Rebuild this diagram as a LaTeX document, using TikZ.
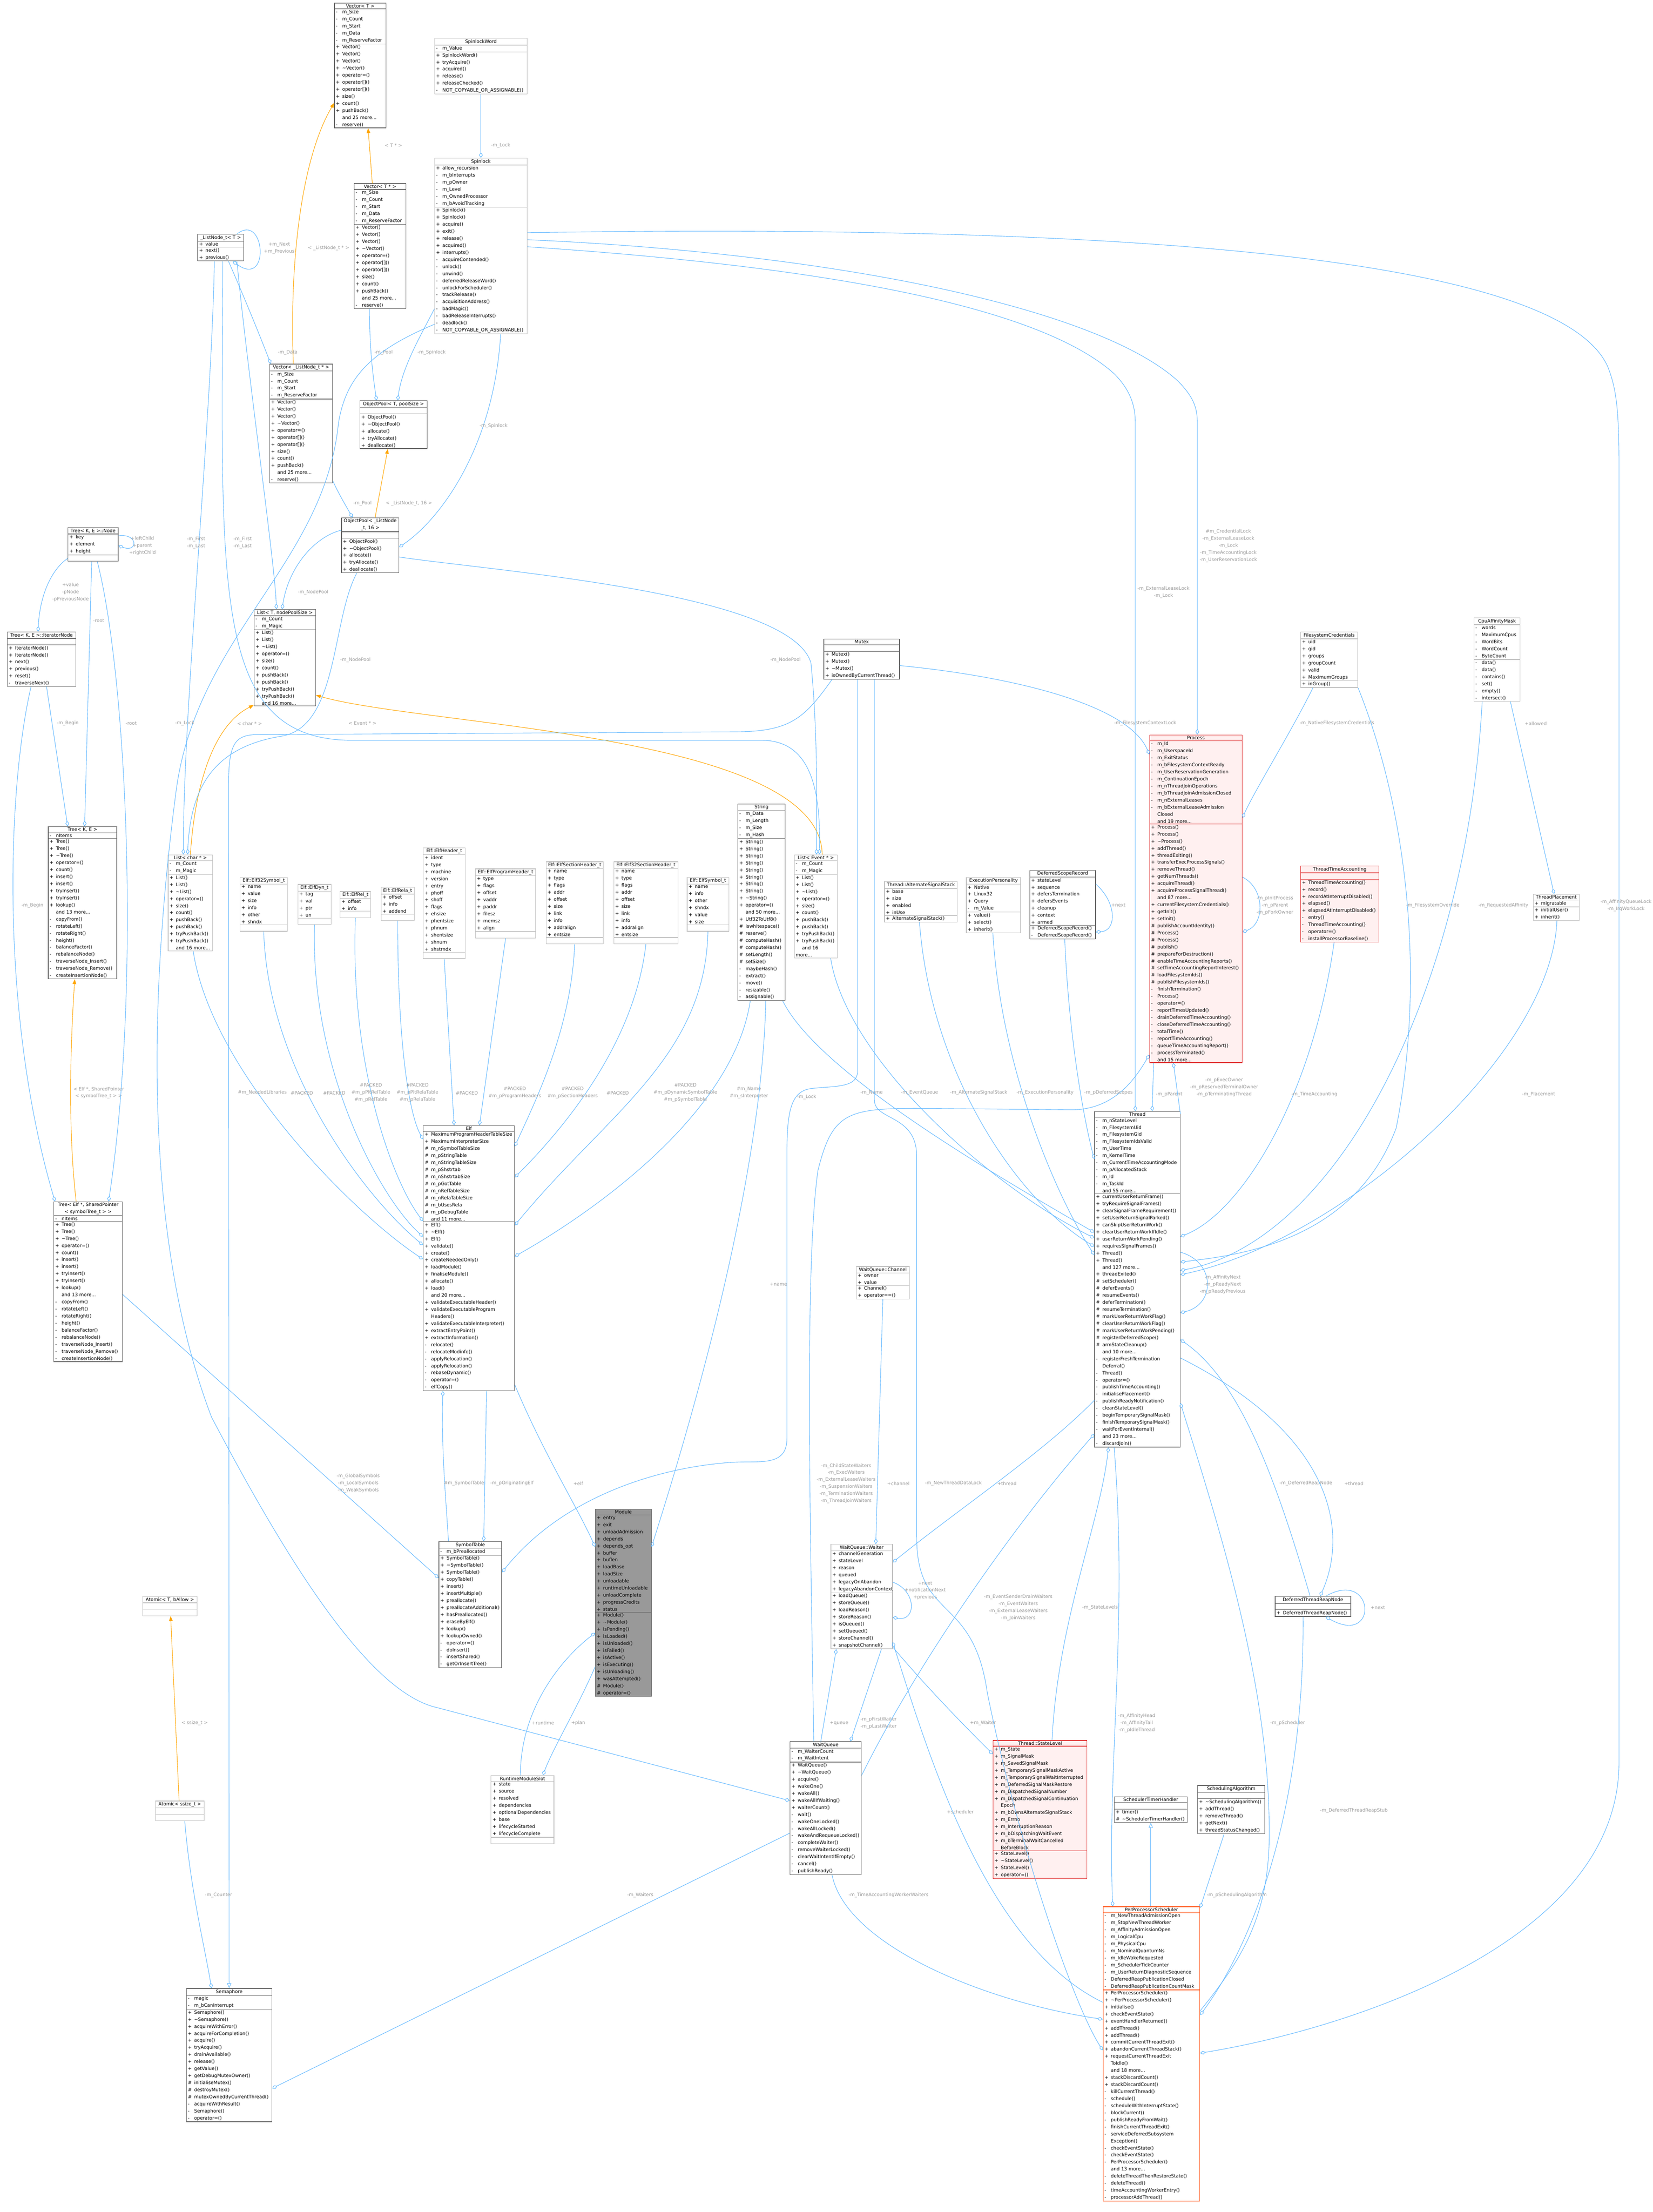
\documentclass[tikz,border=0pt]{standalone}
\usepackage{fontspec}
\setmainfont{DejaVu Sans}
\usetikzlibrary{shapes.multipart,arrows.meta,calc}
\setlength\parindent{0pt}

\definecolor{edgeblue}{HTML}{63B8FF}
\definecolor{tplorange}{HTML}{FFA500}
\definecolor{lblgrey}{HTML}{9A9A9A}
\definecolor{boxdark}{HTML}{666666}
\definecolor{boxlight}{HTML}{BFBFBF}
\definecolor{hlred}{HTML}{E03030}
\definecolor{hlfill}{HTML}{FFF0F0}
\definecolor{ppsred}{HTML}{FF5A1F}
\definecolor{modgrey}{HTML}{999999}

\newcommand\boxfont{\fontsize{3.3}{5}\selectfont}
\newcommand\mrow[2]{\makebox[4.5pt][l]{#1}#2\par}
\newcommand\pubs[1]{\foreach \x in {#1}{\mrow{+}{\x}}}
\newcommand\pris[1]{\foreach \x in {#1}{\mrow{-}{\x}}}
\newcommand\pros[1]{\foreach \x in {#1}{\mrow{\#}{\x}}}
\newcommand\more[1]{\mrow{}{and #1 more...}}
\newcommand\ttl[1]{\centering #1\par}
\newcommand\emp{\rule{0pt}{3pt}}
\newcommand\vecmeth{\pubs{Vector(),Vector(),Vector(),\textasciitilde Vector(),operator=(),operator[](),operator[](),size(),count(),pushBack()}\more{25}\pris{reserve()}}
\newcommand\listmeth{\pubs{List(),List(),\textasciitilde List(),operator=(),size(),count(),pushBack(),pushBack(),tryPushBack(),tryPushBack()}\more{16}}
\newcommand\treemeth{\pubs{Tree(),Tree(),\textasciitilde Tree(),operator=(),count(),insert(),insert(),tryInsert(),tryInsert(),lookup()}\more{13}\pris{copyFrom(),rotateLeft(),rotateRight(),height(),balanceFactor(),rebalanceNode(),traverseNode\_Insert(),traverseNode\_Remove(),createInsertionNode()}}
\newcommand\poolmeth{\pubs{ObjectPool(),\textasciitilde ObjectPool(),allocate(),tryAllocate(),deallocate()}}

\tikzset{
  cls/.style={draw=boxdark, fill=white, rectangle split, rectangle split parts=3,
    anchor=north west, inner xsep=1pt, inner ysep=0.6pt, font=\boxfont, align=left, line width=0.4pt},
  clslt/.style={cls, draw=boxlight},
  clsred/.style={cls, draw=hlred, fill=hlfill},
  lbl/.style={font=\boxfont, text=lblgrey, align=center, inner sep=0pt},
  agg/.style={draw=edgeblue, line width=0.35pt, -{Diamond[open,length=4pt,width=2.6pt]}},
  tpl/.style={draw=tplorange, color=tplorange, line width=0.35pt, -{Triangle[length=3.5pt,width=2.6pt]}},
  inh/.style={draw=edgeblue, line width=0.35pt, -{Triangle[open,length=3.5pt,width=3pt]}}
}

\begin{document}
\begin{tikzpicture}[x=1pt,y=-1pt]
\useasboundingbox (0,0) rectangle (1172,1568.7);

% template and container classes
\node[cls, text width=34.6pt] (vect) at (237,2) {\ttl{Vector< T >}\nodepart{two}\pris{m\_Size,m\_Count,m\_Start,m\_Data,m\_ReserveFactor}\nodepart{three}\vecmeth};
\node[cls, text width=34.6pt] (vectptr) at (251,130) {\ttl{Vector< T * >}\nodepart{two}\pris{m\_Size,m\_Count,m\_Start,m\_Data,m\_ReserveFactor}\nodepart{three}\vecmeth};
\node[cls, text width=42.6pt] (vectln) at (191,258) {\ttl{Vector< \_ListNode\_t * >}\nodepart{two}\pris{m\_Size,m\_Count,m\_Start,m\_ReserveFactor}\nodepart{three}\vecmeth};
\node[clslt, text width=63.6pt] (spinword) at (308,27) {\ttl{SpinlockWord}\nodepart{two}\pris{m\_Value}\nodepart{three}\pubs{SpinlockWord(),tryAcquire(),acquired(),release(),releaseChecked()}\pris{NOT\_COPYABLE\_OR\_ASSIGNABLE()}};
\node[clslt, text width=63.6pt] (spin) at (308,112) {\ttl{Spinlock}\nodepart{two}\pubs{allow\_recursion}\pris{m\_bInterrupts,m\_pOwner,m\_Level,m\_OwnedProcessor,m\_bAvoidTracking}\nodepart{three}\pubs{Spinlock(),Spinlock(),acquire(),exit(),release(),acquired(),interrupts()}\pris{acquireContended(),unlock(),unwind(),deferredReleaseWord(),unlockForScheduler(),trackRelease(),acquisitionAddress(),badMagic(),badReleaseInterrupts(),deadlock(),NOT\_COPYABLE\_OR\_ASSIGNABLE()}};
\node[cls, text width=30.6pt] (lnode) at (140,166) {\ttl{\_ListNode\_t< T >}\nodepart{two}\pubs{value}\nodepart{three}\pubs{next(),previous()}};
\node[cls, text width=45.6pt] (poolT) at (255,284) {\ttl{ObjectPool< T, poolSize >}\nodepart{two}\emp\nodepart{three}\poolmeth};
\node[cls, text width=38.6pt] (poolLN) at (242,367) {\ttl{ObjectPool< \_ListNode\\\_t, 16 >}\nodepart{two}\emp\nodepart{three}\poolmeth};
\node[cls, text width=33.6pt] (tnode) at (48,374) {\ttl{Tree< K, E >::Node}\nodepart{two}\pubs{key,element,height}\nodepart{three}\emp};
\node[cls, text width=46.6pt] (titer) at (5,448) {\ttl{Tree< K, E >::IteratorNode}\nodepart{two}\emp\nodepart{three}\pubs{IteratorNode(),IteratorNode(),next(),previous(),reset()}\pris{traverseNext()}};
\node[cls, text width=41.6pt] (listT) at (180,432) {\ttl{List< T, nodePoolSize >}\nodepart{two}\pris{m\_Count,m\_Magic}\nodepart{three}\listmeth};
\node[cls, text width=46.6pt] (treeKE) at (34,586) {\ttl{Tree< K, E >}\nodepart{two}\pris{nItems}\nodepart{three}\treemeth};
\node[clslt, text width=29.6pt] (listC) at (119,606) {\ttl{List< char * >}\nodepart{two}\pris{m\_Count,m\_Magic}\nodepart{three}\listmeth};
\node[cls, text width=46.6pt] (treeElf) at (38,852) {\ttl{Tree< Elf *, SharedPointer\\< symbolTree\_t > >}\nodepart{two}\pris{nItems}\nodepart{three}\treemeth};

% elf structures
\node[clslt, text width=31.6pt] (e32sym) at (170,622) {\ttl{Elf::Elf32Symbol\_t}\nodepart{two}\pubs{name,value,size,info,other,shndx}\nodepart{three}\emp};
\node[clslt, text width=21.6pt] (edyn) at (211,627) {\ttl{Elf::ElfDyn\_t}\nodepart{two}\pubs{tag,val,ptr,un}\nodepart{three}\emp};
\node[clslt, text width=19.6pt] (erel) at (241,632) {\ttl{Elf::ElfRel\_t}\nodepart{two}\pubs{offset,info}\nodepart{three}\emp};
\node[clslt, text width=21.6pt] (erela) at (270,629) {\ttl{Elf::ElfRela\_t}\nodepart{two}\pubs{offset,info,addend}\nodepart{three}\emp};
\node[clslt, text width=27.6pt] (ehdr) at (300,601) {\ttl{Elf::ElfHeader\_t}\nodepart{two}\pubs{ident,type,machine,version,entry,phoff,shoff,flags,ehsize,phentsize,phnum,shentsize,shnum,shstrndx}\nodepart{three}\emp};
\node[clslt, text width=40.6pt] (ephdr) at (337,616) {\ttl{Elf::ElfProgramHeader\_t}\nodepart{two}\pubs{type,flags,offset,vaddr,paddr,filesz,memsz,align}\nodepart{three}\emp};
\node[clslt, text width=38.6pt] (eshdr) at (387,611) {\ttl{Elf::ElfSectionHeader\_t}\nodepart{two}\pubs{name,type,flags,addr,offset,size,link,info,addralign,entsize}\nodepart{three}\emp};
\node[clslt, text width=43.6pt] (e32shdr) at (435,611) {\ttl{Elf::Elf32SectionHeader\_t}\nodepart{two}\pubs{name,type,flags,addr,offset,size,link,info,addralign,entsize}\nodepart{three}\emp};
\node[clslt, text width=27.6pt] (esym) at (487,622) {\ttl{Elf::ElfSymbol\_t}\nodepart{two}\pubs{name,info,other,shndx,value,size}\nodepart{three}\emp};
\node[cls, text width=31.6pt] (str) at (523,570) {\ttl{String}\nodepart{two}\pris{m\_Data,m\_Length,m\_Size,m\_Hash}\nodepart{three}\pubs{String(),String(),String(),String(),String(),String(),String(),String(),\textasciitilde String(),operator=()}\more{50}\pubs{Utf32ToUtf8()}\pros{iswhitespace(),reserve(),computeHash(),computeHash(),setLength(),setSize()}\pris{maybeHash(),extract(),move(),resizable(),assignable()}};

% process and thread side
\node[cls, text width=51.6pt] (mutex) at (584,453) {\ttl{Mutex}\nodepart{two}\emp\nodepart{three}\pubs{Mutex(),Mutex(),\textasciitilde Mutex(),isOwnedByCurrentThread()}};
\node[clslt, text width=38.6pt] (fscred) at (922,448) {\ttl{FilesystemCredentials}\nodepart{two}\pubs{uid,gid,groups,groupCount,valid,MaximumGroups}\nodepart{three}\pubs{inGroup()}};
\node[clslt, text width=30.6pt] (cpumask) at (1045,438) {\ttl{CpuAffinityMask}\nodepart{two}\pris{words,MaximumCpus,WordBits,WordCount,ByteCount}\nodepart{three}\pris{data(),data(),contains(),set(),empty(),intersect()}};
\node[clsred, text width=63.6pt] (process) at (815,521) {\ttl{Process}\nodepart{two}\pris{m\_Id,m\_UserspaceId,m\_ExitStatus,m\_bFilesystemContextReady,m\_UserReservationGeneration,m\_ContinuationEpoch,m\_nThreadJoinOperations,m\_bThreadJoinAdmissionClosed,m\_nExternalLeases,m\_bExternalLeaseAdmission}\mrow{}{Closed}\more{19}\nodepart{three}\pubs{Process(),Process(),\textasciitilde Process(),addThread(),threadExiting(),transferExecProcessSignals(),removeThread(),getNumThreads(),acquireThread(),acquireProcessSignalThread()}\more{87}\pubs{currentFilesystemCredentials(),getInit(),setInit()}\pros{publishAccountIdentity(),Process(),Process(),publish(),prepareForDestruction(),enableTimeAccountingReports(),setTimeAccountingReportInterest(),loadFilesystemIds(),publishFilesystemIds()}\pris{finishTermination(),Process(),operator=(),reportTimesUpdated(),drainDeferredTimeAccounting(),closeDeferredTimeAccounting(),totalTime(),reportTimeAccounting(),queueTimeAccountingReport(),processTerminated()}\more{15}};
\node[clslt, text width=28.6pt] (listE) at (563,606) {\ttl{List< Event * >}\nodepart{two}\pris{m\_Count,m\_Magic}\nodepart{three}\listmeth};
\node[clslt, text width=49.6pt] (altsig) at (627,625) {\ttl{Thread::AlternateSignalStack}\nodepart{two}\pubs{base,size,enabled,inUse}\nodepart{three}\pubs{AlternateSignalStack()}};
\node[clslt, text width=36.6pt] (execp) at (685,622) {\ttl{ExecutionPersonality}\nodepart{two}\pubs{Native,Linux32,Query}\pris{m\_Value}\nodepart{three}\pubs{value(),select(),inherit()}};
\node[cls, text width=44.6pt] (dsr) at (730,617) {\ttl{DeferredScopeRecord}\nodepart{two}\pubs{stateLevel,sequence,defersTermination,defersEvents,cleanup,context,armed}\nodepart{three}\pubs{DeferredScopeRecord()}\pris{DeferredScopeRecord()}};
\node[clsred, text width=53.6pt] (tta) at (922,614) {\ttl{ThreadTimeAccounting}\nodepart{two}\emp\nodepart{three}\pubs{ThreadTimeAccounting(),record(),recordAtInterruptDisabled(),elapsed(),elapsedAtInterruptDisabled()}\pris{entry(),ThreadTimeAccounting(),operator=(),installProcessorBaseline()}};
\node[clslt, text width=30.6pt] (tplace) at (1087,634) {\ttl{ThreadPlacement}\nodepart{two}\pubs{migratable}\nodepart{three}\pubs{initialUser(),inherit()}};
\node[cls, text width=58.6pt] (thread) at (776,788) {\ttl{Thread}\nodepart{two}\pris{m\_nStateLevel,m\_FilesystemUid,m\_FilesystemGid,m\_FilesystemIdsValid,m\_UserTime,m\_KernelTime,m\_CurrentTimeAccountingMode,m\_pAllocatedStack,m\_Id,m\_TaskId}\more{55}\nodepart{three}\pubs{currentUserReturnFrame(),tryRequireSignalFrames(),clearSignalFrameRequirement(),setUserReturnSignalParked(),canSkipUserReturnWork(),clearUserReturnWorkIfIdle(),userReturnWorkPending(),requiresSignalFrames(),Thread(),Thread()}\more{127}\pubs{threadExited()}\pros{setScheduler(),deferEvents(),resumeEvents(),deferTermination(),resumeTermination(),markUserReturnWorkFlag(),clearUserReturnWorkFlag(),markUserReturnWorkPending(),registerDeferredScope(),armStateCleanup()}\more{10}\pris{registerFreshTermination}\mrow{}{Deferral()}\pris{Thread(),operator=(),publishTimeAccounting(),initialisePlacement(),publishReadyNotification(),cleanStateLevel(),beginTemporarySignalMask(),finishTemporarySignalMask(),waitForEventInternal()}\more{23}\pris{discardJoin()}};

% module side
\node[cls, text width=62.6pt] (elf) at (300,798) {\ttl{Elf}\nodepart{two}\pubs{MaximumProgramHeaderTableSize,MaximumInterpreterSize}\pros{m\_nSymbolTableSize,m\_pStringTable,m\_nStringTableSize,m\_pShstrtab,m\_nShstrtabSize,m\_pGotTable,m\_nRelTableSize,m\_nRelaTableSize,m\_bUsesRela,m\_pDebugTable}\more{11}\nodepart{three}\pubs{Elf(),\textasciitilde Elf(),Elf(),validate(),create(),createNeededOnly(),loadModule(),finaliseModule(),allocate(),load()}\more{20}\pubs{validateExecutableHeader(),validateExecutableProgram}\mrow{}{Headers()}\pubs{validateExecutableInterpreter(),extractEntryPoint(),extractInformation()}\pris{relocate(),relocateModinfo(),applyRelocation(),applyRelocation(),rebaseDynamic(),operator=(),elfCopy()}};
\node[clslt, text width=35.6pt] (chan) at (607,898) {\ttl{WaitQueue::Channel}\nodepart{two}\pubs{owner,value}\nodepart{three}\pubs{Channel(),operator==()}};
\node[cls, text width=42.6pt] (symtab) at (311,1093) {\ttl{SymbolTable}\nodepart{two}\pris{m\_bPreallocated}\nodepart{three}\pubs{SymbolTable(),\textasciitilde SymbolTable(),SymbolTable(),copyTable(),insert(),insertMultiple(),preallocate(),preallocateAdditional(),hasPreallocated(),eraseByElf(),lookup(),lookupOwned()}\pris{operator=(),doInsert(),insertShared(),getOrInsertTree()}};
\node[cls, fill=modgrey, text width=37.6pt] (module) at (422,1070) {\ttl{Module}\nodepart{two}\pubs{entry,exit,unloadAdmission,depends,depends\_opt,buffer,buflen,loadBase,loadSize,unloadable,runtimeUnloadable,unloadComplete,progressCredits,status}\nodepart{three}\pubs{Module(),\textasciitilde Module(),isPending(),isLoaded(),isUnloaded(),isFailed(),isActive(),isExecuting(),isUnloading(),wasAttempted()}\pros{Module(),operator=()}};
\node[clslt, text width=41.6pt] (waiter) at (589,1095) {\ttl{WaitQueue::Waiter}\nodepart{two}\pubs{channelGeneration,stateLevel,reason,queued,legacyOnAbandon,legacyAbandonContext}\nodepart{three}\pubs{loadQueue(),storeQueue(),loadReason(),storeReason(),isQueued(),setQueued(),storeChannel(),snapshotChannel()}};
\node[clslt, text width=42.6pt] (rms) at (348,1259) {\ttl{RuntimeModuleSlot}\nodepart{two}\pubs{state,source,resolved,dependencies,optionalDependencies,base,lifecycleStarted,lifecycleComplete}\nodepart{three}\emp};
\node[cls, text width=48.6pt] (wq) at (560,1235) {\ttl{WaitQueue}\nodepart{two}\pris{m\_WaiterCount,m\_WaitIntent}\nodepart{three}\pubs{WaitQueue(),\textasciitilde WaitQueue(),acquire(),wakeOne(),wakeAll(),wakeAllIfWaiting(),waiterCount()}\pris{wait(),wakeOneLocked(),wakeAllLocked(),wakeAndRequeueLocked(),completeWaiter(),removeWaiterLocked(),clearWaitIntentIfEmpty(),cancel(),publishReady()}};
\node[clsred, text width=64.6pt] (tsl) at (704,1234) {\ttl{Thread::StateLevel}\nodepart{two}\pubs{m\_State,m\_SignalMask,m\_SavedSignalMask,m\_TemporarySignalMaskActive,m\_TemporarySignalWaitInterrupted,m\_DeferredSignalMaskRestore,m\_DispatchedSignalNumber,m\_DispatchedSignalContinuation}\mrow{}{Epoch}\pubs{m\_bOwnsAlternateSignalStack,m\_Errno,m\_InterruptionReason,m\_bDispatchingWaitEvent,m\_bTerminalWaitCancelled}\mrow{}{BeforeBlock}\nodepart{three}\pubs{StateLevel(),\textasciitilde StateLevel(),StateLevel(),operator=()}};
\node[clslt, text width=36.6pt] (atomT) at (101,1132) {\ttl{Atomic< T, bAllow >}\nodepart{two}\emp\nodepart{three}\emp};
\node[clslt, text width=32.6pt] (atomS) at (110,1277) {\ttl{Atomic< ssize\_t >}\nodepart{two}\emp\nodepart{three}\emp};
\node[cls, text width=58.6pt] (sem) at (132,1410) {\ttl{Semaphore}\nodepart{two}\pris{magic,m\_bCanInterrupt}\nodepart{three}\pubs{Semaphore(),\textasciitilde Semaphore(),acquireWithError(),acquireForCompletion(),acquire(),tryAcquire(),drainAvailable(),release(),getValue(),getDebugMutexOwner()}\pros{initialiseMutex(),destroyMutex(),mutexOwnedByCurrentThread()}\pris{acquireWithResult(),Semaphore(),operator=()}};
\node[cls, text width=51.6pt] (dtrn) at (904,1132) {\ttl{DeferredThreadReapNode}\nodepart{two}\emp\nodepart{three}\pubs{DeferredThreadReapNode()}};
\node[cls, text width=49.6pt] (sth) at (790,1274) {\ttl{SchedulerTimerHandler}\nodepart{two}\emp\nodepart{three}\pubs{timer()}\pros{\textasciitilde SchedulerTimerHandler()}};
\node[cls, text width=45.6pt] (salg) at (849,1266) {\ttl{SchedulingAlgorithm}\nodepart{two}\emp\nodepart{three}\pubs{\textasciitilde SchedulingAlgorithm(),addThread(),removeThread(),getNext(),threadStatusChanged()}};
\node[cls, draw=ppsred, text width=66.6pt] (pps) at (782,1352) {\ttl{PerProcessorScheduler}\nodepart{two}\pris{m\_NewThreadAdmissionOpen,m\_StopNewThreadWorker,m\_AffinityAdmissionOpen,m\_LogicalCpu,m\_PhysicalCpu,m\_NominalQuantumNs,m\_IdleWakeRequested,m\_SchedulerTickCounter,m\_UserReturnDiagnosticSequence,DeferredReapPublicationClosed,DeferredReapPublicationCountMask}\nodepart{three}\pubs{PerProcessorScheduler(),\textasciitilde PerProcessorScheduler(),initialise(),checkEventState(),eventHandlerReturned(),addThread(),addThread(),commitCurrentThreadExit(),abandonCurrentThreadStack(),requestCurrentThreadExit}\mrow{}{ToIdle()}\more{18}\pubs{stackDiscardCount(),stackDiscardCount()}\pris{killCurrentThread(),schedule(),scheduleWithInterruptState(),blockCurrent(),publishReadyFromWait(),finishCurrentThreadExit(),serviceDeferredSubsystem}\mrow{}{Exception()}\pris{checkEventState(),checkEventState(),PerProcessorScheduler()}\more{13}\pris{deleteThreadThenRestoreState(),deleteThread(),timeAccountingWorkerEntry(),processorAddThread()}};

% template instantiations
\draw[tpl] ($(vectptr.north west)+(13,0)$) -- ($(vect.south west)+(24,0)$);
\draw[tpl] ($(vectln.north west)+(17,0)$) .. controls (205,180) and (215,110) .. ($(vect.north west)+(0,71)$);
\draw[tpl] ($(poolLN.north west)+(24,0)$) -- ($(poolT.south west)+(20,0)$);
\draw[tpl] ($(listC.north west)+(16,0)$) .. controls (138,560) and (150,515) .. ($(listT.north west)+(0,68)$);
\draw[tpl] ($(listE.north west)+(20,0)$) .. controls (582,520) and (300,515) .. ($(listT.north east)+(0,61)$);
\draw[tpl] ($(treeElf.north west)+(16,0)$) .. controls (48,800) and (50,740) .. ($(treeKE.south west)+(19,0)$);
\draw[tpl] ($(atomS.north west)+(17,0)$) -- ($(atomT.south west)+(20,0)$);
\node[lbl] (lbT1) at (279,103) {< T * >};
\node[lbl] (lbT2) at (233,176) {< \_ListNode\_t * >};
\node[lbl] (lbT3) at (290,357) {< \_ListNode\_t, 16 >};
\node[lbl] (lbT4) at (177,513) {< char * >};
\node[lbl] (lbT5) at (257,513) {< Event * >};
\node[lbl] (lbT6) at (70,775) {< Elf *, SharedPointer\\< symbolTree\_t > >};
\node[lbl] (lbT7) at (138,1222) {< ssize\_t >};

% inheritance
\draw[inh] ($(mutex.south west)+(6,0)$) .. controls (570,510) and (560,519) .. (520,519) -- (180,521) .. controls (165,522) and (162,530) .. (162,560) -- (sem.north);
\draw[inh] ($(pps.north west)+(34,0)$) -- (sth.south);

% members: containers
\draw[agg] (spinword.south) -- (spin.north);
\node[lbl] (lb1) at (355,103) {-m\_Lock};
\draw[agg] ($(lnode.north east)+(-5,0)$) .. controls (188,150) and (192,205) .. ($(lnode.south east)+(-8,0)$);
\node[lbl] (lb2) at (198,176) {+m\_Next\\+m\_Previous};
\draw[agg] ($(lnode.south west)+(22,0)$) .. controls (175,215) and (185,240) .. ($(vectln.north west)+(1,0)$);
\node[lbl] (lb3) at (204,250) {-m\_Data};
\draw[agg] ($(lnode.south west)+(12,0)$) .. controls (150,300) and (130,500) .. ($(listC.north west)+(11,0)$);
\node[lbl] (lb4) at (139,385) {-m\_First\\-m\_Last};
\draw[agg] ($(lnode.south west)+(18,0)$) .. controls (157,420) and (150,525) .. (250,525) -- (540,525) .. controls (575,525) and (582,560) .. ($(listE.north west)+(18,0)$);
\node[lbl] (lb5) at (172,385) {-m\_First\\-m\_Last};
\draw[agg] ($(lnode.south west)+(28,0)$) .. controls (175,260) and (195,400) .. ($(listT.north west)+(16,0)$);
\draw[agg] ($(vectptr.south west)+(11,0)$) .. controls (262,250) and (265,270) .. ($(poolT.north west)+(12,0)$);
\node[lbl] (lb6) at (272,250) {-m\_Pool};
\draw[agg] ($(spin.north west)+(0,107)$) .. controls (300,235) and (285,260) .. ($(poolT.north west)+(27,0)$);
\node[lbl] (lb7) at (306,250) {-m\_Spinlock};
\draw[agg] ($(vectln.north east)+(0,83)$) .. controls (240,350) and (246,360) .. ($(poolLN.north west)+(8,0)$);
\node[lbl] (lb8) at (257,357) {-m\_Pool};
\draw[agg] ($(spin.south west)+(47,0)$) .. controls (350,320) and (310,370) .. ($(poolLN.north east)+(0,21)$);
\node[lbl] (lb9) at (350,302) {-m\_Spinlock};
\draw[agg] ($(poolLN.north west)+(0,9)$) .. controls (225,380) and (205,400) .. ($(listT.north west)+(20,0)$);
\node[lbl] (lb10) at (222,420) {-m\_NodePool};
\draw[agg] ($(poolLN.south west)+(11,0)$) .. controls (235,440) and (240,515) .. (200,522) .. controls (150,530) and (135,560) .. ($(listC.north west)+(14,0)$);
\node[lbl] (lb11) at (252,468) {-m\_NodePool};
\draw[agg] ($(poolLN.north east)+(0,28)$) .. controls (350,405) and (560,420) .. (575,470) .. controls (580,520) and (579,570) .. ($(listE.north west)+(16,0)$);
\node[lbl] (lb12) at (557,468) {-m\_NodePool};
\draw[agg] ($(spin.north west)+(0,118)$) .. controls (260,250) and (245,270) .. (240,300) .. controls (230,400) and (140,450) .. (125,560) .. controls (100,750) and (110,900) .. (150,1005) .. controls (200,1100) and (260,1200) .. (310,1211) -- ($(wq.north west)+(0,42)$);
\node[lbl] (lb13) at (131,513) {-m\_Lock};

% members: trees
\draw[agg] ($(tnode.north east)+(0,6)$) .. controls (98,378) and (98,392) .. ($(tnode.north east)+(0,13)$);
\node[lbl] (lb14) at (101,387) {+leftChild\\+parent\\+rightChild};
\draw[agg] ($(tnode.north west)+(0,22)$) .. controls (35,405) and (28,425) .. ($(titer.north west)+(22,0)$);
\node[lbl] (lb15) at (50,420) {+value\\-pNode\\-pPreviousNode};
\draw[agg] ($(tnode.south west)+(17,0)$) -- ($(treeKE.north west)+(26,0)$);
\node[lbl] (lb16) at (70,440) {-root};
\draw[agg] ($(tnode.south west)+(21,0)$) .. controls (90,480) and (100,700) .. ($(treeElf.north west)+(39,0)$);
\node[lbl] (lb17) at (93,513) {-root};
\draw[agg] ($(titer.south west)+(28,0)$) -- ($(treeKE.north west)+(14,0)$);
\node[lbl] (lb18) at (48,513) {-m\_Begin};
\draw[agg] ($(titer.south west)+(17,0)$) .. controls (5,560) and (0,720) .. ($(treeElf.north west)+(1,0)$);
\node[lbl] (lb19) at (23,642) {-m\_Begin};

% members: elf
\draw[agg] ($(listC.south west)+(18,0)$) .. controls (150,760) and (250,860) .. ($(elf.north west)+(0,95)$);
\draw[agg] (e32sym.south) .. controls (190,760) and (260,850) .. ($(elf.north west)+(0,85)$);
\draw[agg] (edyn.south) .. controls (220,760) and (270,850) .. ($(elf.north west)+(0,79)$);
\draw[agg] (erel.south) .. controls (248,760) and (280,840) .. ($(elf.north west)+(0,68)$);
\draw[agg] (erela.south) .. controls (282,740) and (290,790) .. ($(elf.north west)+(0,10)$);
\draw[agg] (ehdr.south) -- ($(elf.north west)+(22,0)$);
\draw[agg] (ephdr.south) -- ($(elf.north west)+(40,0)$);
\draw[agg] (eshdr.south) .. controls (405,730) and (380,780) .. ($(elf.north east)+(0,15)$);
\draw[agg] (e32shdr.south) .. controls (450,740) and (400,800) .. ($(elf.north east)+(0,37)$);
\draw[agg] (esym.south) .. controls (500,750) and (430,790) .. ($(elf.north east)+(0,71)$);
\draw[agg] ($(str.south west)+(9,0)$) .. controls (520,790) and (420,860) .. ($(elf.north east)+(0,93)$);
\node[lbl] (lb20) at (186,775) {\#m\_NeededLibraries};
\node[lbl] (lb21) at (214,775) {\#PACKED};
\node[lbl] (lb22) at (237,775) {\#PACKED};
\node[lbl] (lb23) at (263,775) {\#PACKED\\\#m\_pPltRelTable\\\#m\_pRelTable};
\node[lbl] (lb24) at (296,775) {\#PACKED\\\#m\_pPltRelaTable\\\#m\_pRelaTable};
\node[lbl] (lb25) at (331,775) {\#PACKED};
\node[lbl] (lb26) at (365,775) {\#PACKED\\\#m\_pProgramHeaders};
\node[lbl] (lb27) at (406,775) {\#PACKED\\\#m\_pSectionHeaders};
\node[lbl] (lb28) at (438,775) {\#PACKED};
\node[lbl] (lb29) at (486,775) {\#PACKED\\\#m\_pDynamicSymbolTable\\\#m\_pSymbolTable};
\node[lbl] (lb30) at (531,775) {\#m\_Name\\\#m\_sInterpreter};

% members: module
\draw[agg] ($(elf.south west)+(45,0)$) -- ($(symtab.north west)+(32,0)$);
\node[lbl] (lb31) at (363,1052) {-m\_pOriginatingElf};
\draw[agg] ($(symtab.north west)+(7,0)$) .. controls (316,1060) and (313,1030) .. ($(elf.south west)+(14,0)$);
\node[lbl] (lb32) at (329,1052) {\#m\_SymbolTable};
\draw[agg] ($(elf.north east)+(0,184)$) .. controls (385,1030) and (410,1070) .. ($(module.north west)+(0,27)$);
\node[lbl] (lb33) at (410,1052) {+elf};
\draw[agg] ($(str.south west)+(20,0)$) .. controls (540,850) and (480,1040) .. ($(module.north east)+(0,27)$);
\node[lbl] (lb34) at (552,911) {+name};
\draw[agg] ($(treeElf.north east)+(0,66)$) -- ($(symtab.north west)+(0,26)$);
\node[lbl] (lb35) at (254,1052) {-m\_GlobalSymbols\\-m\_LocalSymbols\\-m\_WeakSymbols};
\draw[agg] ($(mutex.south west)+(24,0)$) -- (608,760) .. controls (608,772) and (590,770) .. (575,772) .. controls (560,774) and (558,790) .. (558,820) -- (558,1020) .. controls (558,1040) and (540,1036) .. (520,1037) .. controls (470,1040) and (400,1060) .. ($(symtab.north east)+(0,22)$);
\node[lbl] (lb36) at (572,778) {-m\_Lock};
\draw[agg] ($(rms.north west)+(21,0)$) .. controls (369,1210) and (400,1175) .. ($(module.north west)+(0,88)$);
\node[lbl] (lb37) at (385,1222) {+runtime};
\draw[agg] ($(module.north west)+(0,112)$) .. controls (410,1210) and (392,1240) .. ($(rms.north west)+(37,0)$);
\node[lbl] (lb38) at (410,1222) {+plan};

% members: wait queues
\draw[agg] (chan.south) -- ($(waiter.north west)+(32,0)$);
\node[lbl] (lb39) at (637,1052) {+channel};
\draw[agg] ($(waiter.north east)+(0,27)$) .. controls (650,1128) and (650,1150) .. ($(waiter.north east)+(0,52)$);
\node[lbl] (lb40) at (656,1128) {+next\\+notificationNext\\+previous};
\draw[agg] ($(waiter.south west)+(36,0)$) -- ($(wq.north west)+(43,0)$);
\node[lbl] (lb41) at (623,1222) {-m\_pFirstWaiter\\-m\_pLastWaiter};
\draw[agg] ($(wq.north west)+(22,0)$) -- ($(waiter.south west)+(4,0)$);
\node[lbl] (lb42) at (595,1222) {+queue};
\draw[agg] ($(wq.north west)+(17,0)$) .. controls (575,1100) and (570,900) .. (580,830) .. controls (590,790) and (600,786) .. (650,786) -- (760,787) .. controls (790,787) and (805,765) .. ($(process.north west)+(0,227)$);
\node[lbl] (lb43) at (600,1052) {-m\_ChildStateWaiters\\-m\_ExecWaiters\\-m\_ExternalLeaseWaiters\\-m\_SuspensionWaiters\\-m\_TerminationWaiters\\-m\_ThreadJoinWaiters};
\draw[agg] ($(wq.north east)+(0,24)$) .. controls (650,1180) and (720,1080) .. ($(thread.north west)+(0,229)$);
\node[lbl] (lb44) at (722,1140) {-m\_EventSenderDrainWaiters\\-m\_EventWaiters\\-m\_ExternalLeaseWaiters\\-m\_JoinWaiters};
\draw[agg] ($(thread.north west)+(0,205)$) .. controls (740,1030) and (680,1070) .. ($(waiter.north east)+(0,13)$);
\node[lbl] (lb45) at (714,1052) {+thread};
\draw[agg] ($(waiter.north east)+(0,73)$) .. controls (660,1200) and (690,1230) .. ($(tsl.north west)+(0,10)$);
\node[lbl] (lb46) at (697,1222) {+m\_Waiter};
\draw[agg] ($(tsl.north west)+(42,0)$) .. controls (750,1150) and (780,1080) .. ($(thread.south west)+(10,0)$);
\node[lbl] (lb47) at (780,1140) {-m\_StateLevels};
\draw[agg] ($(pps.north west)+(0,68)$) .. controls (700,1380) and (660,1250) .. ($(waiter.south east)+(0,-5)$);
\node[lbl] (lb48) at (681,1285) {+scheduler};
\draw[agg] ($(wq.south west)+(30,0)$) .. controls (600,1380) and (700,1420) .. ($(pps.north west)+(0,80)$);
\node[lbl] (lb49) at (630,1344) {-m\_TimeAccountingWorkerWaiters};
\draw[agg] ($(wq.north west)+(0,65)$) -- ($(sem.north east)+(0,71)$);
\node[lbl] (lb50) at (454,1344) {-m\_Waiters};
\draw[agg] ($(atomS.south west)+(21,0)$) .. controls (135,1340) and (145,1380) .. ($(sem.north west)+(18,0)$);
\node[lbl] (lb51) at (155,1344) {-m\_Counter};

% members: process and thread
\draw[agg] ($(mutex.north east)+(0,19)$) .. controls (720,480) and (800,500) .. ($(process.north west)+(0,14)$);
\node[lbl] (lb52) at (812,513) {-m\_FilesystemContextLock};
\draw[agg] ($(spin.north east)+(0,58)$) .. controls (600,180) and (780,220) .. (835,270) .. controls (847,282) and (849,290) .. (849,300) -- ($(process.north west)+(34,0)$);
\node[lbl] (lb53) at (871,387) {\#m\_CredentialLock\\-m\_ExternalLeaseLock\\-m\_Lock\\-m\_TimeAccountingLock\\-m\_UserReservationLock};
\draw[agg] ($(spin.north east)+(0,63)$) .. controls (600,190) and (740,220) .. (790,265) .. controls (803,278) and (805,290) .. (805,300) -- ($(thread.north west)+(29,0)$);
\node[lbl] (lb54) at (825,420) {-m\_ExternalLeaseLock\\-m\_Lock};
\draw[agg] ($(spin.north east)+(0,53)$) .. controls (700,160) and (1100,170) .. (1140,260) .. controls (1146,275) and (1148,290) .. (1148,330) -- (1148,1250) .. controls (1148,1380) and (950,1440) .. ($(pps.north east)+(0,104)$);
\node[lbl] (lb55) at (1153,642) {-m\_AffinityQueueLock\\-m\_IrqWorkLock};
\draw[agg] ($(process.south west)+(3,0)$) -- ($(thread.north west)+(41,0)$);
\node[lbl] (lb56) at (829,776) {-m\_pParent};
\draw[agg] ($(thread.north east)+(0,2)$) -- ($(process.south west)+(17,0)$);
\node[lbl] (lb57) at (868,771) {-m\_pExecOwner\\-m\_pReservedTerminalOwner\\-m\_pTerminatingThread};
\draw[agg] ($(process.north east)+(0,101)$) .. controls (897,630) and (897,655) .. ($(process.north east)+(0,140)$);
\node[lbl] (lb58) at (904,642) {-m\_pInitProcess\\-m\_pParent\\-m\_pForkOwner};
\draw[agg] ($(fscred.south west)+(9,0)$) .. controls (915,520) and (890,560) .. ($(process.north east)+(0,59)$);
\node[lbl] (lb59) at (948,513) {-m\_NativeFilesystemCredentials};
\draw[agg] (fscred.south east) .. controls (1000,580) and (1010,700) .. (990,800) .. controls (960,880) and (880,890) .. ($(thread.north east)+(0,107)$);
\node[lbl] (lb60) at (1016,642) {-m\_FilesystemOverride};
\draw[agg] ($(cpumask.south west)+(26,0)$) -- ($(tplace.north west)+(15,0)$);
\node[lbl] (lb61) at (1089,513) {+allowed};
\draw[agg] ($(cpumask.south west)+(6,0)$) .. controls (1040,700) and (950,880) .. ($(thread.north east)+(0,113)$);
\node[lbl] (lb62) at (1066,642) {-m\_RequestedAffinity};
\draw[agg] ($(tplace.south west)+(17,0)$) .. controls (1100,750) and (950,880) .. ($(thread.north east)+(0,116)$);
\node[lbl] (lb63) at (1091,776) {-m\_Placement};
\draw[agg] ($(tta.south west)+(24,0)$) .. controls (930,780) and (880,860) .. ($(thread.north east)+(0,89)$);
\node[lbl] (lb64) at (932,776) {-m\_TimeAccounting};
\draw[agg] ($(thread.north east)+(0,100)$) .. controls (862,895) and (862,925) .. ($(thread.north east)+(0,143)$);
\node[lbl] (lb65) at (867,911) {-m\_AffinityNext\\-m\_pReadyNext\\-m\_pReadyPrevious};
\draw[agg] ($(str.south east)+(-2,0)$) .. controls (580,760) and (700,830) .. ($(thread.north west)+(0,86)$);
\node[lbl] (lb66) at (618,775) {-m\_Name};
\draw[agg] ($(listE.south west)+(26,0)$) .. controls (600,750) and (700,840) .. ($(thread.north west)+(0,90)$);
\node[lbl] (lb67) at (652,775) {-m\_EventQueue};
\draw[agg] ($(altsig.south west)+(25,0)$) .. controls (660,760) and (720,850) .. ($(thread.north west)+(0,96)$);
\node[lbl] (lb68) at (694,775) {-m\_AlternateSignalStack};
\draw[agg] ($(execp.south west)+(19,0)$) .. controls (710,760) and (750,850) .. ($(thread.north west)+(0,102)$);
\node[lbl] (lb69) at (741,775) {-m\_ExecutionPersonality};
\draw[agg] ($(dsr.south west)+(25,0)$) .. controls (758,740) and (770,800) .. ($(thread.north west)+(0,34)$);
\node[lbl] (lb70) at (786,775) {-m\_pDeferredScopes};
\draw[agg] ($(dsr.north east)+(0,10)$) .. controls (792,640) and (792,660) .. ($(dsr.north east)+(0,44)$);
\node[lbl] (lb71) at (793,642) {+next};

% members: scheduler
\draw[agg] ($(dtrn.north west)+(25,0)$) .. controls (905,1050) and (880,980) .. ($(thread.north east)+(0,162)$);
\node[lbl] (lb72) at (926,1052) {-m\_DeferredReapNode};
\draw[agg] ($(thread.north east)+(0,175)$) .. controls (950,1020) and (955,1090) .. ($(dtrn.north west)+(32,0)$);
\node[lbl] (lb73) at (960,1052) {+thread};
\draw[agg] ($(dtrn.north west)+(36,0)$) .. controls (975,1112) and (978,1168) .. ($(dtrn.south west)+(36,0)$);
\node[lbl] (lb74) at (977,1140) {+next};
\draw[agg] ($(pps.north east)+(0,74)$) .. controls (880,1390) and (900,1360) .. (900,1300) .. controls (900,1200) and (870,1100) .. ($(thread.north east)+(0,207)$);
\node[lbl] (lb75) at (913,1222) {-m\_pScheduler};
\draw[agg] ($(dtrn.south west)+(20,0)$) .. controls (925,1300) and (880,1390) .. ($(pps.north east)+(0,77)$);
\node[lbl] (lb76) at (960,1284) {-m\_DeferredThreadReapStub};
\draw[agg] ($(thread.south west)+(14,0)$) .. controls (800,1150) and (785,1250) .. ($(pps.north west)+(7,0)$);
\node[lbl] (lb77) at (806,1222) {-m\_AffinityHead\\-m\_AffinityTail\\-m\_pIdleThread};
\draw[agg] ($(salg.south west)+(19,0)$) -- ($(pps.north east)+(0,1)$);
\node[lbl] (lb78) at (877,1344) {-m\_pSchedulingAlgorithm};
\draw[agg] ($(mutex.south west)+(36,0)$) -- (620,780) .. controls (620,795) and (650,790) .. (650,820) -- (650,1090) .. controls (650,1150) and (690,1130) .. (700,1200) .. controls (720,1300) and (760,1420) .. ($(pps.north west)+(0,102)$);
\node[lbl] (lb79) at (676,1052) {-m\_NewThreadDataLock};
\end{tikzpicture}
\end{document}
